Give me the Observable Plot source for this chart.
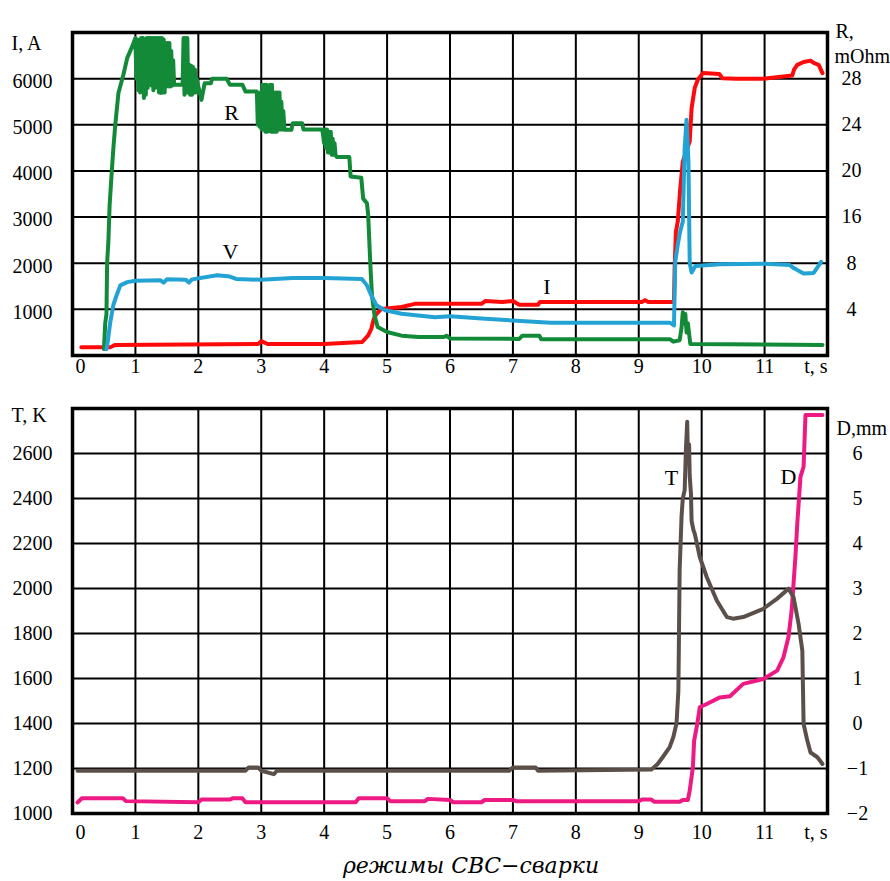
<!DOCTYPE html>
<html><head><meta charset="utf-8">
<script src="https://cdn.jsdelivr.net/npm/d3@7"></script>
<script src="https://cdn.jsdelivr.net/npm/@observablehq/plot@0.6"></script>
<style>
body{margin:0;background:#fff;}
#chart{width:890px;position:relative;}
svg{display:block}
#caption{position:absolute;left:0;top:850px;width:890px;text-align:center;padding-left:52px;box-sizing:border-box;
font-family:"DejaVu Serif",serif;font-style:italic;font-size:22px;line-height:31px;color:#000;}
</style></head>
<body>
<div id="chart"></div>
<div id="caption">ρежимы СВС−сварки</div>
<script>
// ---------- axis ticks ----------
const tTicks = [0,1,2,3,4,5,6,7,8,9,10,11];
const tEndLabel = "t, s";
const iTicks = [1000,2000,3000,4000,5000,6000];
const rTickLabels = ["4","8","16","20","24","28"];
const tempTicks = [1000,1200,1400,1600,1800,2000,2200,2400,2600];
const dTickLabels = ["\u22122","\u22121","0","1","2","3","4","5","6"];

// ---------- top panel: current I (A) ----------
const tI = [0.14,0.6,0.68,2.95,3.0,3.1,4.0,4.6,4.65,4.7,4.75,4.79,4.83,4.91,5.23,5.44,6.5,6.56,6.83,7.0,7.1,7.4,7.43,9.05,9.1,9.15,9.56,9.57,9.59,9.62,9.66,9.7,9.75,9.81,9.84,9.89,9.94,10.02,10.28,10.33,10.55,10.98,11.44,11.47,11.52,11.62,11.73,11.78,11.86,11.92];
const vI = [180,180,230,250,310,250,250,290,360,435,580,800,900,1010,1050,1120,1120,1180,1160,1180,1100,1100,1160,1160,1200,1160,1160,1880,2680,2900,3620,4200,4400,4640,5360,5800,5980,6120,6100,6010,6000,6000,6070,6200,6300,6360,6390,6340,6300,6120];

// ---------- top panel: voltage V (plotted on I scale) ----------
const tV = [0.54,0.56,0.6,0.65,0.7,0.76,0.87,1.0,1.4,1.45,1.5,1.8,1.85,1.9,2.3,2.5,2.6,3.0,3.5,4.0,4.6,4.68,4.75,4.83,4.97,5.23,5.76,6.0,6.5,7.6,9.5,9.56,9.58,9.62,9.66,9.7,9.73,9.76,9.79,9.81,9.84,9.9,10.3,11.0,11.4,11.47,11.62,11.78,11.9];
const vV = [140,300,720,1100,1300,1520,1590,1620,1630,1580,1650,1640,1580,1650,1740,1710,1660,1640,1680,1680,1660,1520,1300,1090,980,905,830,850,800,710,710,650,2030,2400,2700,2900,4500,5110,4200,2000,1800,1940,1980,1990,1960,1890,1775,1790,2030];

// ---------- top panel: resistance R (plotted on I scale) ----------
const tR = [0.5,0.52,0.54,0.55,0.57,0.59,0.62,0.65,0.68,0.73,0.81,0.87,0.95,
  1.0,1.015,1.03,1.045,1.06,1.075,1.09,1.105,1.12,1.135,1.15,1.165,1.18,1.195,1.21,1.225,1.24,1.255,1.27,1.285,1.3,1.315,1.33,1.345,1.36,1.375,1.39,1.405,1.42,1.435,1.45,1.465,1.48,1.495,1.51,1.525,1.54,1.555,1.57,1.585,1.6,1.615,
  1.75,1.765,1.78,1.795,1.81,1.825,1.84,1.855,1.87,1.885,1.9,1.915,1.93,1.945,1.96,1.975,2.0,2.05,2.1,2.2,2.22,2.45,2.5,2.7,2.75,
  2.93,2.945,2.96,2.975,2.99,3.005,3.02,3.035,3.05,3.065,3.08,3.095,3.11,3.125,3.14,3.155,3.17,3.185,3.2,3.215,3.23,3.245,3.26,3.275,3.29,3.305,3.32,3.335,3.35,3.37,
  3.48,3.5,3.65,3.67,3.97,4.0,4.015,4.03,4.045,4.06,4.075,4.09,4.105,4.12,4.135,4.15,4.165,4.18,4.2,4.4,4.42,4.59,4.62,4.68,4.7,4.72,4.74,4.76,4.8,4.85,5.0,5.23,5.5,5.9,5.95,6.0,7.1,7.15,7.42,7.45,9.5,9.55,9.65,9.68,9.7,9.72,9.74,9.76,9.78,9.82,11.92];
const vR = [140,700,900,2000,2460,3260,3900,4500,5000,5690,6090,6450,6700,
  6880,6000,6850,5750,6800,5700,6880,5750,6880,5580,6700,5650,6880,5800,6880,5900,6880,5850,6880,5750,6880,5800,6880,5850,6880,5700,6880,5690,6880,5700,6850,5700,6770,5830,6770,5830,6770,5830,6600,5850,6400,5870,
  5870,6880,5650,6880,5700,6880,5700,6300,5650,6280,5650,6250,5700,6200,5700,6000,5830,5540,5900,5900,6000,6000,5870,5870,5720,
  5720,5000,5620,4960,5700,4900,5870,4900,5870,4850,5870,4850,5800,4900,5870,4850,5870,4850,5700,4850,5700,4850,5700,4900,5700,4900,5500,4900,5300,4890,
  4890,5035,5035,4900,4900,4600,4900,4500,4900,4400,4850,4400,4850,4350,4700,4350,4600,4350,4300,4300,3880,3850,3400,3300,3040,2400,1800,1300,870,620,510,430,400,400,430,370,360,430,430,350,350,300,330,600,940,700,900,500,700,250,230];

// ---------- bottom panel: temperature T (K) ----------
const tT = [0.08,2.75,2.8,2.95,3.0,3.2,3.25,6.94,7.0,7.36,7.4,9.2,9.3,9.38,9.49,9.55,9.6,9.63,9.65,9.68,9.7,9.73,9.75,9.77,9.78,9.8,9.81,9.83,9.84,9.87,9.89,9.97,10.08,10.24,10.4,10.5,10.66,10.98,11.2,11.38,11.46,11.54,11.6,11.62,11.68,11.73,11.84,11.92];
const vT = [1190,1190,1205,1205,1190,1175,1190,1190,1205,1205,1190,1195,1220,1250,1294,1340,1400,1546,2081,2318,2400,2437,2620,2741,2600,2640,2500,2420,2300,2259,2244,2140,2051,1947,1873,1866,1873,1910,1955,1999,1962,1843,1724,1398,1323,1271,1250,1220];

// ---------- bottom panel: displacement D (plotted on T scale) ----------
const tD = [0.08,0.15,0.8,0.85,2.0,2.05,2.5,2.55,2.7,2.75,4.5,4.55,5.0,5.05,5.6,5.65,6.0,6.05,6.5,6.55,7.0,7.05,9.0,9.05,9.2,9.25,9.65,9.7,9.78,9.81,9.86,9.88,9.93,9.97,10.08,10.29,10.45,10.66,10.98,11.2,11.3,11.38,11.43,11.49,11.52,11.57,11.62,11.65,11.92];
const vD = [1049,1068,1068,1055,1050,1062,1062,1068,1068,1050,1050,1068,1068,1055,1055,1065,1060,1050,1050,1060,1060,1055,1055,1062,1062,1052,1052,1060,1060,1101,1204,1323,1398,1472,1487,1516,1521,1576,1598,1635,1694,1784,1902,2140,2289,2496,2541,2771,2771];

// ---------- curve labels ----------
const topLabelText = ["R","V","I"];
const topLabelT = [2.53,2.51,7.54];
const topLabelV = [5267,2246,1485];
const botLabelText = ["T","D"];
const botLabelT = [9.52,11.38];
const botLabelV = [2492,2494];

// ---------- colours ----------
const colI = "#ff0a0a", colV = "#22a3d4", colR = "#128a38", colT = "#5b5049", colD = "#ee1a84";

const rows = (ts, vs) => ts.map((t, i) => ({t, v: vs[i]}));
const ff = "Liberation Serif";
const txt = {fontFamily: ff, fontSize: 20, fill: "black"};

const topPlot = Plot.plot({
  width: 890, height: 390,
  marginLeft: 72, marginRight: 63, marginTop: 32, marginBottom: 35,
  x: {domain: [0, 12], axis: null},
  y: {domain: [0, 7000], axis: null},
  style: {fontFamily: ff, fontSize: "20px", color: "black", background: "white", overflow: "visible"},
  marks: [
    Plot.gridX({ticks: tTicks.slice(1), stroke: "black", strokeOpacity: 1, strokeWidth: 2}),
    Plot.gridY({ticks: iTicks, stroke: "black", strokeOpacity: 1, strokeWidth: 2}),
    Plot.line(rows(tI, vI), {x: "t", y: "v", stroke: colI, strokeWidth: 4}),
    Plot.line(rows(tR, vR), {x: "t", y: "v", stroke: colR, strokeWidth: 4}),
    Plot.line(rows(tV, vV), {x: "t", y: "v", stroke: colV, strokeWidth: 4}),
    Plot.frame({stroke: "black", strokeWidth: 3.5}),
    Plot.text(iTicks, {...txt, y: d => d, frameAnchor: "left", text: d => String(d), dx: -20, dy: 3, textAnchor: "end"}),
    Plot.text(iTicks, {...txt, y: d => d, frameAnchor: "right", text: d => rTickLabels[iTicks.indexOf(d)], dx: 24, textAnchor: "middle"}),
    Plot.text(tTicks.slice(0, 1), {...txt, x: d => d, frameAnchor: "bottom", text: d => String(d), dy: 17, dx: 8}),
    Plot.text(tTicks.slice(1), {...txt, x: d => d, frameAnchor: "bottom", text: d => String(d), dy: 17}),
    Plot.text([tEndLabel], {...txt, frameAnchor: "bottom-right", dy: 17}),
    Plot.text(topLabelText, {...txt, x: (d, i) => topLabelT[i], y: (d, i) => topLabelV[i], text: d => d, fontSize: 22}),
    Plot.text(["I, A"], {...txt, frameAnchor: "top-left", dx: -61, dy: 3, textAnchor: "start"}),
    Plot.text(["R,"], {...txt, frameAnchor: "top-right", dx: 8, dy: -9, textAnchor: "start"}),
    Plot.text(["mOhm"], {...txt, frameAnchor: "top-right", dx: 7, dy: 16, textAnchor: "start"})
  ]
});

const bottomPlot = Plot.plot({
  width: 890, height: 460,
  marginLeft: 72, marginRight: 63, marginTop: 18, marginBottom: 37,
  x: {domain: [0, 12], axis: null},
  y: {domain: [1000, 2800], axis: null},
  style: {fontFamily: ff, fontSize: "20px", color: "black", background: "white", overflow: "visible"},
  marks: [
    Plot.gridX({ticks: tTicks.slice(1), stroke: "black", strokeOpacity: 1, strokeWidth: 2}),
    Plot.gridY({ticks: tempTicks.slice(1), stroke: "black", strokeOpacity: 1, strokeWidth: 2}),
    Plot.line(rows(tD, vD), {x: "t", y: "v", stroke: colD, strokeWidth: 4}),
    Plot.line(rows(tT, vT), {x: "t", y: "v", stroke: colT, strokeWidth: 4}),
    Plot.frame({stroke: "black", strokeWidth: 3.5}),
    Plot.text(tempTicks, {...txt, y: d => d, frameAnchor: "left", text: d => String(d), dx: -20, textAnchor: "end"}),
    Plot.text(tempTicks, {...txt, y: d => d, frameAnchor: "right", text: d => dTickLabels[tempTicks.indexOf(d)], dx: 30, textAnchor: "middle"}),
    Plot.text(tTicks.slice(0, 1), {...txt, x: d => d, frameAnchor: "bottom", text: d => String(d), dy: 25, dx: 8}),
    Plot.text(tTicks.slice(1), {...txt, x: d => d, frameAnchor: "bottom", text: d => String(d), dy: 25}),
    Plot.text([tEndLabel], {...txt, frameAnchor: "bottom-right", dy: 25}),
    Plot.text(botLabelText, {...txt, x: (d, i) => botLabelT[i], y: (d, i) => botLabelV[i], text: d => d, fontSize: 22}),
    Plot.text(["T, K"], {...txt, frameAnchor: "top-left", dx: -61, dy: -1, textAnchor: "start"}),
    Plot.text(["D,mm"], {...txt, frameAnchor: "top-right", dx: 9, dy: 12, textAnchor: "start"})
  ]
});

const chart = document.getElementById("chart");
chart.appendChild(topPlot);
chart.appendChild(bottomPlot);
</script>
</body></html>
